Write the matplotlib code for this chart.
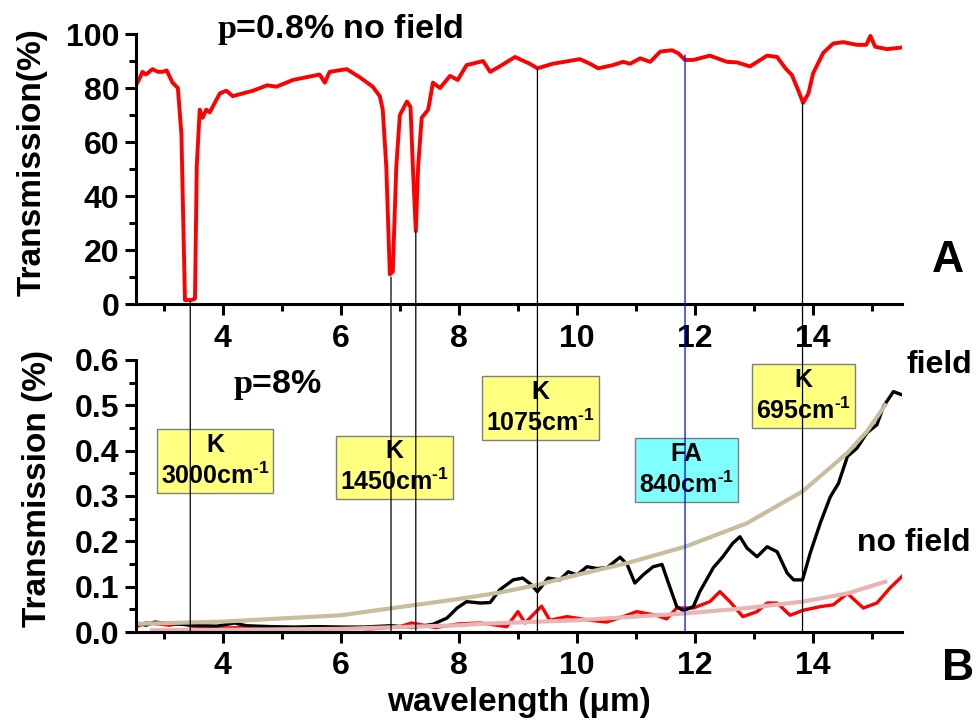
import matplotlib
matplotlib.use("Agg")
import matplotlib.pyplot as plt
from matplotlib.patches import ConnectionPatch
from matplotlib.ticker import MultipleLocator

plt.rcParams['font.family'] = ['Liberation Sans', 'DejaVu Sans']
plt.rcParams['font.weight'] = 'bold'
plt.rcParams['mathtext.fontset'] = 'custom'
plt.rcParams['mathtext.rm'] = 'Liberation Serif:bold'
plt.rcParams['mathtext.bf'] = 'Liberation Sans:bold'

# top panel: rho = 0.8 %, no field
top_x = [2.53, 2.58, 2.64, 2.70, 2.81, 2.90, 2.98, 3.05, 3.15, 3.24, 3.30, 3.36, 3.47, 3.53,
         3.56, 3.61, 3.66, 3.72, 3.78, 3.95, 4.06, 4.17, 4.51, 4.75, 4.91, 5.19, 5.64, 5.73,
         5.81, 6.10, 6.32, 6.54, 6.66, 6.71, 6.77, 6.83, 6.88, 6.94, 7.00, 7.12, 7.18, 7.22,
         7.27, 7.31, 7.37, 7.48, 7.56, 7.68, 7.85, 7.98, 8.13, 8.41, 8.53, 8.69, 8.95, 9.20,
         9.33, 9.59, 10.05, 10.22, 10.36, 10.61, 10.78, 10.90, 11.07, 11.24, 11.41, 11.61,
         11.72, 11.83, 11.97, 12.25, 12.54, 12.71, 12.93, 13.22, 13.39, 13.53, 13.64, 13.75,
         13.83, 13.92, 14.00, 14.17, 14.34, 14.51, 14.74, 14.90, 14.97, 15.05, 15.25, 15.50]
top_y = [81, 83, 86, 85, 87, 86, 86, 86.5, 82, 80, 63, 1.5, 1.5, 2,
         51, 72, 69, 72, 71, 78, 79, 77, 79, 81, 80.5, 83, 85, 82,
         86, 87, 84, 80.5, 77, 72, 51, 11, 12, 51, 70, 75, 73, 51,
         27, 51, 69, 72, 82, 80, 84.5, 83, 88.5, 90, 86, 88, 91.5, 89,
         87.3, 89, 90.7, 89, 87.3, 88.5, 89.7, 89, 91, 89.7, 93.5, 94,
         92.8, 90.4, 90.4, 92, 89.7, 89.5, 88, 92, 91.5, 87.3, 84.8, 79,
         74.5, 78, 85.5, 93, 96.5, 97, 96, 96, 99.3, 95.3, 94.4, 95]

# bottom panel: rho = 8 %, with field (black)
field_x = [2.53, 2.70, 2.85, 3.00, 3.20, 3.40, 3.60, 3.90, 4.20, 4.40, 4.80, 5.20, 5.60, 6.00,
           6.40, 6.85, 7.20, 7.56, 7.80, 7.97, 8.13, 8.36, 8.53, 8.69, 8.92, 9.08, 9.23, 9.33,
           9.51, 9.71, 9.85, 10.00, 10.17, 10.34, 10.51, 10.73, 10.85, 10.98, 11.12, 11.29,
           11.44, 11.53, 11.69, 11.80, 11.97, 12.08, 12.31, 12.47, 12.64, 12.76, 12.88, 13.05,
           13.22, 13.39, 13.56, 13.67, 13.82, 13.95, 14.12, 14.29, 14.43, 14.58, 14.74, 14.91,
           15.08, 15.19, 15.36, 15.50]
field_y = [0.020, 0.015, 0.022, 0.020, 0.018, 0.016, 0.014, 0.013, 0.020, 0.014, 0.012, 0.011,
           0.012, 0.011, 0.011, 0.014, 0.010, 0.017, 0.031, 0.053, 0.067, 0.064, 0.065, 0.093,
           0.115, 0.119, 0.104, 0.089, 0.119, 0.115, 0.133, 0.126, 0.144, 0.140, 0.142, 0.165,
           0.149, 0.108, 0.126, 0.144, 0.149, 0.115, 0.056, 0.047, 0.056, 0.089, 0.142, 0.166,
           0.196, 0.210, 0.185, 0.166, 0.188, 0.177, 0.130, 0.115, 0.115, 0.174, 0.240, 0.298,
           0.328, 0.387, 0.405, 0.439, 0.457, 0.497, 0.530, 0.523]

# bottom panel: no field (red)
nofield_x = [2.53, 2.70, 2.90, 3.10, 3.30, 3.50, 3.80, 4.30, 4.60, 5.00, 5.50, 6.00, 6.50, 7.00,
             7.20, 7.60, 8.00, 8.36, 8.81, 9.00, 9.12, 9.40, 9.54, 9.83, 10.22, 10.50, 10.78,
             11.01, 11.34, 11.52, 11.69, 11.97, 12.25, 12.42, 12.59, 12.81, 13.05, 13.22, 13.39,
             13.61, 13.83, 14.12, 14.34, 14.58, 14.85, 15.08, 15.30, 15.50]
nofield_y = [0.012, 0.020, 0.018, 0.015, 0.020, 0.012, 0.008, 0.010, 0.006, 0.008, 0.006, 0.010,
             0.007, 0.012, 0.020, 0.010, 0.018, 0.020, 0.012, 0.045, 0.020, 0.057, 0.026, 0.034,
             0.026, 0.022, 0.034, 0.045, 0.037, 0.029, 0.053, 0.053, 0.067, 0.089, 0.067, 0.034,
             0.045, 0.064, 0.064, 0.037, 0.048, 0.056, 0.060, 0.085, 0.053, 0.064, 0.097, 0.122]

# fitted trend curves
fit_field_x = [2.53, 4.0, 6.0, 7.0, 8.0, 8.69, 9.33, 10.0, 10.85, 11.83, 12.88, 13.82, 14.58,
               14.91, 15.22]
fit_field_y = [0.018, 0.023, 0.037, 0.055, 0.073, 0.087, 0.104, 0.126, 0.152, 0.188, 0.240,
               0.310, 0.395, 0.442, 0.500]
fit_nofield_x = [2.80, 4.0, 6.0, 8.0, 8.36, 10.0, 11.83, 12.88, 13.82, 14.58, 15.22]
fit_nofield_y = [0.004, 0.005, 0.007, 0.015, 0.018, 0.026, 0.041, 0.053, 0.067, 0.085, 0.111]

# marker lines: wavelength, value on top curve, colour
mark_x = [3.45, 6.85, 7.27, 9.33, 11.83, 13.82]
mark_top = [1, 10, 27, 87.3, 92.2, 74.4]
mark_col = ['k', 'k', 'k', 'k', 'b', 'k']

# boxes
sup = '$^{\\mathbf{\u20101}}$'
box_text = ['K\n3000cm' + sup, 'K\n1450cm' + sup, 'K\n1075cm' + sup,
            'FA\n840cm' + sup, 'K\n695cm' + sup]
box_x = [3.87, 6.91, 9.38, 11.86, 13.84]
box_y = [0.377, 0.363, 0.494, 0.357, 0.520]
box_col = ['#FFFF80', '#FFFF80', '#FFFF80', '#80FFFF', '#FFFF80']


def style_axis(ax):
    for s in ['top', 'right']:
        ax.spines[s].set_visible(False)
    for s in ['left', 'bottom']:
        ax.spines[s].set_linewidth(2.2)
    ax.xaxis.set_major_locator(MultipleLocator(2))
    ax.xaxis.set_minor_locator(MultipleLocator(1))
    ax.tick_params(which='major', length=8, width=2.2, labelsize=23)
    ax.tick_params(which='minor', length=5, width=2.2)
    ax.tick_params(axis='x', pad=6)
    ax.tick_params(axis='y', pad=4)
    ax.set_xlim(2.53, 15.5)


fig = plt.figure(figsize=(9.78, 7.24), dpi=100)
ax1 = fig.add_axes([0.139, 0.580, 0.783, 0.373])
ax2 = fig.add_axes([0.139, 0.127, 0.783, 0.376])

ax1.plot(top_x, top_y, color='#FF0000', lw=2.8)
ax1.set_ylim(0, 100)
ax1.yaxis.set_major_locator(MultipleLocator(20))
ax1.yaxis.set_minor_locator(MultipleLocator(10))
style_axis(ax1)
ax1.set_ylabel('Transmission(%)', fontsize=24, fontweight='bold')
ax1.yaxis.set_label_coords(-0.115, 0.525)

ax2.plot(nofield_x, nofield_y, color='#FF0000', lw=2.4)
ax2.plot(field_x, field_y, color='black', lw=2.4)
ax2.plot(fit_field_x, fit_field_y, color='#C6BE9E', lw=3)
ax2.plot(fit_nofield_x, fit_nofield_y, color='#E8B4B4', lw=3)
ax2.set_ylim(0, 0.6)
ax2.yaxis.set_major_locator(MultipleLocator(0.1))
ax2.yaxis.set_minor_locator(MultipleLocator(0.05))
style_axis(ax2)
ax2.set_ylabel('Transmission (%)', fontsize=24, fontweight='bold')
ax2.yaxis.set_label_coords(-0.108, 0.526)
ax2.set_xlabel('wavelength (μm)', fontsize=24, fontweight='bold', labelpad=4)

for t, x, y, c in zip(box_text, box_x, box_y, box_col):
    ax2.text(x, y, t, ha='center', va='center', fontsize=18, fontweight='bold',
             linespacing=1.25, zorder=4,
             bbox=dict(boxstyle='square,pad=0.15', fc=c, ec='#7F7F7F', lw=1))

for x, y, c in zip(mark_x, mark_top, mark_col):
    con = ConnectionPatch(xyA=(x, y), coordsA=ax1.transData,
                          xyB=(x, 0), coordsB=ax2.transData,
                          color=c, lw=0.9, zorder=6)
    ax2.add_artist(con)
    con.set_clip_on(False)

fig.text(0.222, 0.948, '$\\mathrm{p}$=0.8% no field', fontsize=24.5, fontweight='bold', va='baseline')
fig.text(0.238, 0.457, '$\\mathrm{p}$=8%', fontsize=24.5, fontweight='bold', va='baseline')
fig.text(0.927, 0.485, 'field', fontsize=23, fontweight='bold', va='baseline')
fig.text(0.876, 0.239, 'no field', fontsize=23, fontweight='bold', va='baseline')
fig.text(0.953, 0.624, 'A', fontsize=32, fontweight='bold', va='baseline')
fig.text(0.963, 0.061, 'B', fontsize=32, fontweight='bold', va='baseline')

fig.savefig('out.png', dpi=100)
